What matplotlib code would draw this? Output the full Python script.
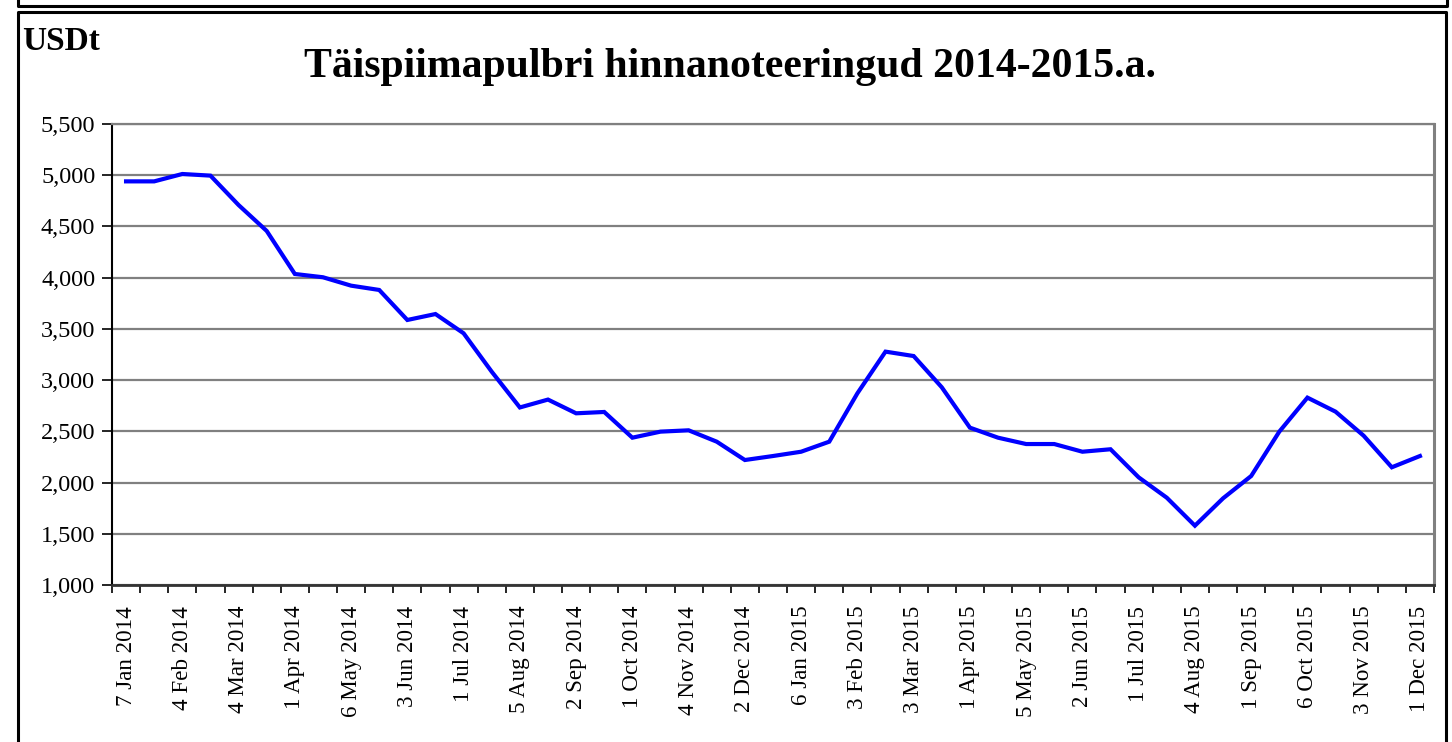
import matplotlib
matplotlib.use("Agg")
import matplotlib.pyplot as plt
from matplotlib.lines import Line2D
from matplotlib.ticker import FuncFormatter, FixedLocator

dates = [
    "7 Jan 2014", "21 Jan 2014", "4 Feb 2014", "18 Feb 2014", "4 Mar 2014", "18 Mar 2014",
    "1 Apr 2014", "15 Apr 2014", "6 May 2014", "20 May 2014", "3 Jun 2014", "17 Jun 2014",
    "1 Jul 2014", "15 Jul 2014", "5 Aug 2014", "19 Aug 2014", "2 Sep 2014", "16 Sep 2014",
    "1 Oct 2014", "15 Oct 2014", "4 Nov 2014", "18 Nov 2014", "2 Dec 2014", "16 Dec 2014",
    "6 Jan 2015", "20 Jan 2015", "3 Feb 2015", "17 Feb 2015", "3 Mar 2015", "17 Mar 2015",
    "1 Apr 2015", "15 Apr 2015", "5 May 2015", "19 May 2015", "2 Jun 2015", "16 Jun 2015",
    "1 Jul 2015", "15 Jul 2015", "4 Aug 2015", "18 Aug 2015", "1 Sep 2015", "15 Sep 2015",
    "6 Oct 2015", "20 Oct 2015", "3 Nov 2015", "17 Nov 2015", "1 Dec 2015",
]
prices = [
    4940, 4940, 5012, 4996, 4709, 4456,
    4036, 4004, 3922, 3880, 3587, 3645,
    3457, 3082, 2733, 2810, 2676, 2689,
    2438, 2497, 2510, 2399, 2220, 2259,
    2301, 2399, 2871, 3278, 3235, 2930,
    2536, 2438, 2376, 2376, 2301, 2325,
    2051, 1852, 1579, 1846, 2064, 2497,
    2829, 2692, 2457, 2149, 2259,
]
y_ticks = [1000, 1500, 2000, 2500, 3000, 3500, 4000, 4500, 5000, 5500]
title = "Täispiimapulbri hinnanoteeringud 2014-2015.a."
unit_label = "USDt"

W, H = 1452, 742
fig = plt.figure(figsize=(W / 100, H / 100), dpi=100)
fig.patch.set_facecolor("white")

serif = ["Liberation Serif", "DejaVu Serif"]

def fx(px):
    return px / W

def fy(py):
    return 1 - py / H

ax = fig.add_axes([fx(112), fy(585), fx(1434) - fx(112), fy(124) - fy(585)])

x = list(range(len(prices)))
ax.plot(x, prices, color="#0000FF", lw=3.0, solid_joinstyle="miter", zorder=3)

ax.set_xlim(-0.5, len(prices) - 0.5)
ax.set_ylim(1000, 5500)

# y axis
ax.yaxis.set_major_locator(FixedLocator(y_ticks))
ax.yaxis.set_major_formatter(FuncFormatter(lambda v, p: f"{int(v):,}"))
ax.grid(axis="y", color="#808080", lw=1.6, zorder=1)
ax.tick_params(axis="y", direction="out", length=7, width=1.2, color="black",
               pad=5, labelsize=17.5)

# x axis: labels every second category, ticks at category boundaries
ax.set_xticks(x[::2])
ax.set_xticklabels(dates[::2], rotation=90, fontsize=16.6)
ax.set_xticks([i - 0.5 for i in range(len(prices) + 1)], minor=True)
ax.tick_params(axis="x", which="major", length=0, pad=15)
ax.tick_params(axis="x", which="minor", direction="out", length=6, width=1.2, color="black")

for lab in ax.get_xticklabels() + ax.get_yticklabels():
    lab.set_family(serif)

ax.spines["left"].set_color("black")
ax.spines["left"].set_linewidth(1.5)
ax.spines["bottom"].set_color("#333333")
ax.spines["bottom"].set_linewidth(2.0)
ax.spines["right"].set_color("#808080")
ax.spines["right"].set_linewidth(2.2)
ax.spines["top"].set_color("#808080")
ax.spines["top"].set_linewidth(1.6)

# texts
fig.text(fx(730), fy(77), title, ha="center", va="baseline", fontsize=30.05,
         fontweight="bold", family=serif)
fig.text(fx(22), fy(50), unit_label, ha="left", va="baseline", fontsize=24,
         fontweight="bold", family=serif)

# frames
def fline(xs, ys, lw=2.2, color="black"):
    fig.add_artist(Line2D([fx(v) for v in xs], [fy(v) for v in ys],
                          transform=fig.transFigure, color=color, lw=lw,
                          solid_capstyle="projecting"))

# bottom of previous frame at the top
fline([18, 18, 1447, 1447], [-5, 6, 6, -5])
# chart frame
fline([18, 18, 1446, 1446], [760, 12, 12, 760])

fig.savefig("out.png", dpi=100, facecolor="white")
